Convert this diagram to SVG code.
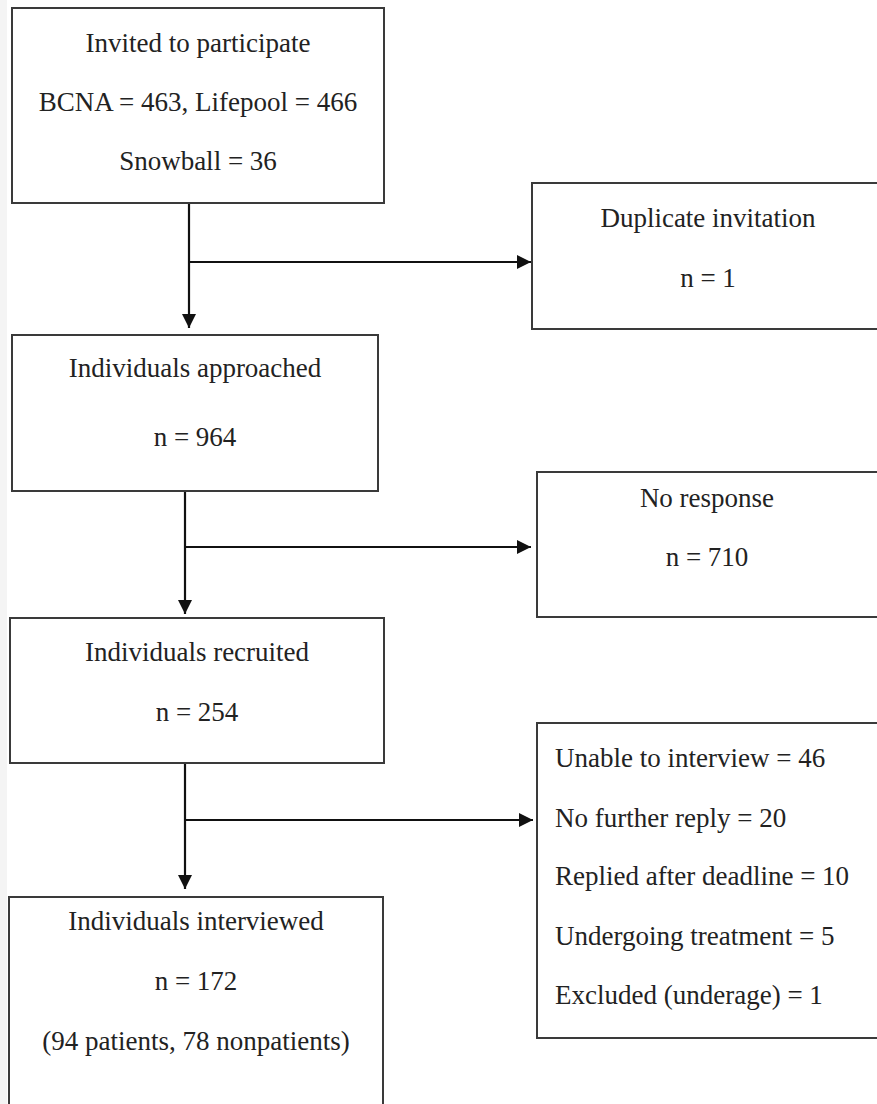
<svg xmlns="http://www.w3.org/2000/svg" width="877" height="1104" viewBox="0 0 877 1104">
<defs>
<style>
.box{fill:#ffffff;stroke:#3a3a3a;stroke-width:2}
.t{font-family:"Liberation Serif","Times New Roman",serif;font-size:27px;fill:#222222}
.c{text-anchor:middle}
.ln{stroke:#111111;stroke-width:2.2;fill:none}
</style>
<marker id="ah" markerUnits="userSpaceOnUse" markerWidth="15" markerHeight="15" refX="14" refY="7" orient="auto">
<path d="M0,0 L14,7 L0,14 z" fill="#111111"/>
</marker>
</defs>
<rect x="0" y="0" width="877" height="1104" fill="#ffffff"/>
<rect x="0" y="0" width="7" height="1104" fill="#f4f4f4"/>

<g id="connectors">
<path class="ln" d="M189,204 V328" marker-end="url(#ah)"/>
<path class="ln" d="M189,262 H531" marker-end="url(#ah)"/>
<path class="ln" d="M185,491 V614" marker-end="url(#ah)"/>
<path class="ln" d="M185,547 H531" marker-end="url(#ah)"/>
<path class="ln" d="M185,763 V889" marker-end="url(#ah)"/>
<path class="ln" d="M185,820 H533" marker-end="url(#ah)"/>
</g>

<g id="invited">
<rect class="box" x="12" y="8" width="372" height="195"/>
<text class="t c" x="198" y="52">Invited to participate</text>
<text class="t c" x="198" y="111">BCNA = 463, Lifepool = 466</text>
<text class="t c" x="198" y="170">Snowball = 36</text>
</g>

<g id="duplicate">
<rect class="box" x="532" y="183" width="346" height="146"/>
<text class="t c" x="708" y="227">Duplicate invitation</text>
<text class="t c" x="708" y="287">n = 1</text>
</g>

<g id="approached">
<rect class="box" x="12" y="335" width="366" height="156"/>
<text class="t c" x="195" y="377">Individuals approached</text>
<text class="t c" x="195" y="446">n = 964</text>
</g>

<g id="noresponse">
<rect class="box" x="537" y="472" width="341" height="145"/>
<text class="t c" x="707" y="507">No response</text>
<text class="t c" x="707" y="566">n = 710</text>
</g>

<g id="recruited">
<rect class="box" x="10" y="618" width="374" height="145"/>
<text class="t c" x="197" y="661">Individuals recruited</text>
<text class="t c" x="197" y="721">n = 254</text>
</g>

<g id="excluded">
<rect class="box" x="537" y="723" width="341" height="315"/>
<text class="t" x="555" y="767">Unable to interview = 46</text>
<text class="t" x="555" y="827">No further reply = 20</text>
<text class="t" x="555" y="885">Replied after deadline = 10</text>
<text class="t" x="555" y="945">Undergoing treatment = 5</text>
<text class="t" x="555" y="1004">Excluded (underage) = 1</text>
</g>

<g id="interviewed">
<rect class="box" x="9" y="897" width="374" height="210"/>
<text class="t c" x="196" y="930">Individuals interviewed</text>
<text class="t c" x="196" y="990">n = 172</text>
<text class="t c" x="196" y="1050">(94 patients, 78 nonpatients)</text>
</g>
</svg>
